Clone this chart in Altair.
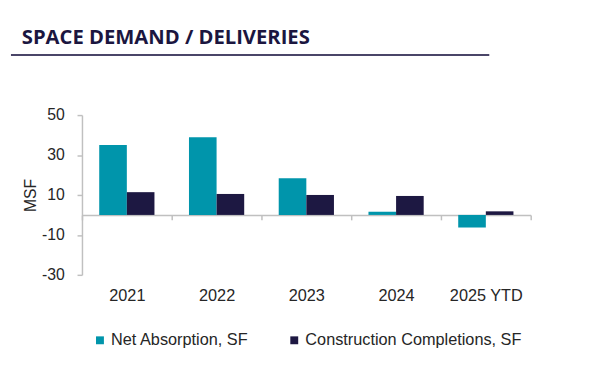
import altair as alt
import pandas as pd

TITLE = "SPACE DEMAND / DELIVERIES"
years = ["2021", "2022", "2023", "2024", "2025 YTD"]
series = ["Net Absorption, SF", "Construction Completions, SF"]
net_absorption = [35.0, 38.9, 18.4, 1.6, -6.3]
completions = [11.4, 10.5, 10.0, 9.5, 1.8]
y_ticks = [-30, -10, 10, 30, 50]
colors = ["#0095AB", "#1D1842"]

rows = []
for i, yr in enumerate(years):
    rows.append({"year": yr, "series": series[0], "value": net_absorption[i]})
    rows.append({"year": yr, "series": series[1], "value": completions[i]})
df = pd.DataFrame(rows)

FONT = "Arial, Liberation Sans"
GRAY = "#c0c0c0"
TXT = "#262626"

bars = alt.Chart(df).mark_bar().encode(
    x=alt.X(
        "year:N",
        sort=years,
        scale=alt.Scale(paddingInner=0, paddingOuter=0),
        axis=alt.Axis(
            title=None, labelAngle=0, grid=False,
            domainColor=GRAY, domainWidth=1.5,
            tickColor=GRAY, tickWidth=1.5, tickSize=5, tickBand="extent",
            offset=-60.75, labelPadding=69,
            labelFont=FONT, labelFontSize=16.5, labelColor=TXT,
        ),
    ),
    xOffset=alt.XOffset("series:N", sort=series,
                        scale=alt.Scale(paddingInner=0, paddingOuter=0.625)),
    y=alt.Y(
        "value:Q",
        scale=alt.Scale(domain=[-30, 50], nice=False, zero=False),
        axis=alt.Axis(
            values=y_ticks, grid=False, title="MSF",
            labelExpr="datum.value < 0 ? '-' + abs(datum.value) : '' + datum.value",
            domainColor=GRAY, domainWidth=1.5,
            tickColor=GRAY, tickWidth=1.5, tickSize=5,
            labelPadding=13, labelFont=FONT, labelFontSize=16, labelColor=TXT,
            titleFont=FONT, titleFontSize=16, titleFontWeight="normal",
            titleColor=TXT, titlePadding=3,
        ),
    ),
    color=alt.Color(
        "series:N", sort=series,
        scale=alt.Scale(domain=series, range=colors),
        legend=alt.Legend(
            title=None, orient="none", legendX=10, legendY=220,
            direction="horizontal", symbolType="square", symbolSize=64,
            symbolStrokeWidth=0, labelFont=FONT, labelFontSize=16.5,
            labelColor=TXT, labelLimit=400, columnPadding=38, labelOffset=3,
        ),
    ),
)

title = alt.Chart(pd.DataFrame({"t": [TITLE]})).mark_text(
    align="left", baseline="alphabetic", font="Open Sans", fontWeight="bold",
    fontSize=20.5, color="#1B1640",
).encode(text="t:N", x=alt.value(-61), y=alt.value(-72))

underline = alt.Chart(pd.DataFrame({"a": [0]})).mark_rule(
    color="#4A4568", strokeWidth=2
).encode(x=alt.value(-72), x2=alt.value(413), y=alt.value(-61))

chart = alt.layer(bars, title, underline).properties(
    width=455, height=162,
    autosize=alt.AutoSizeParams(type="none"),
    padding={"left": 75, "top": 106, "right": 51, "bottom": 100},
).configure(background="white").configure_view(stroke=None)

chart.save("out.html", embed_options={"renderer": "svg", "actions": False})
